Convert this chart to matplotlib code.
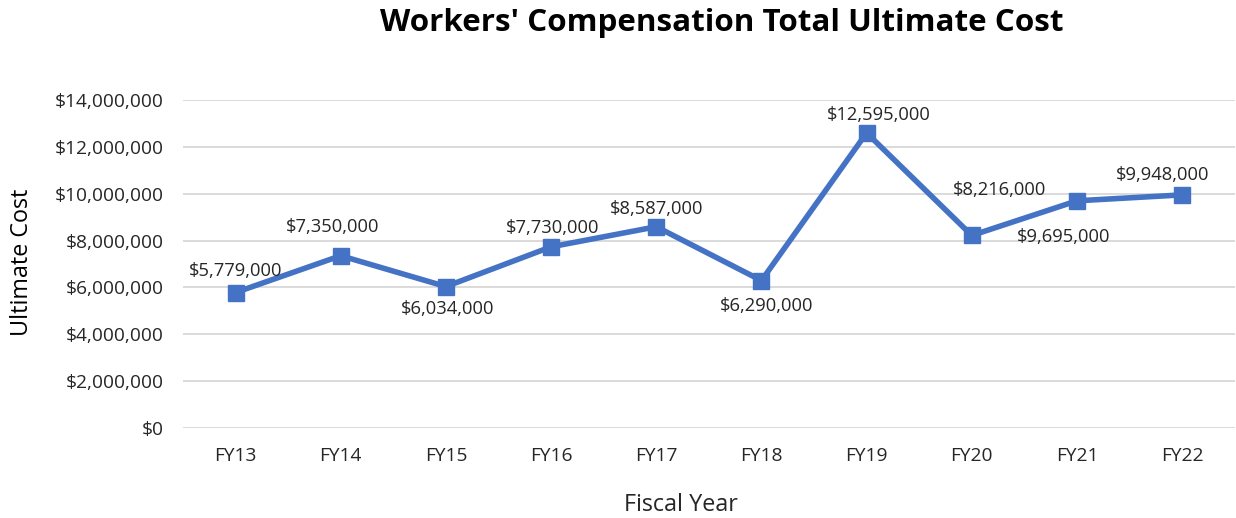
import matplotlib.pyplot as plt
from matplotlib.ticker import FuncFormatter

years = ["FY13", "FY14", "FY15", "FY16", "FY17", "FY18", "FY19", "FY20", "FY21", "FY22"]
cost = [5779000, 7350000, 6034000, 7730000, 8587000, 6290000, 12595000, 8216000, 9695000, 9948000]


def main():
    plt.rcParams['font.family'] = ['Open Sans', 'DejaVu Sans']

    fig = plt.figure(figsize=(12.36, 5.18), dpi=100)
    ax = fig.add_axes([0.148, 0.174, 0.851, 0.633])

    x = list(range(len(years)))
    ax.plot(x, cost, color='#4472C4', lw=4, marker='s', ms=11, zorder=3)

    # label placement (pixels), placed like excel does to avoid the line
    dx = [0, -8, 2, 2, 0, 5, 12, 28, -13, -20]
    dy = [22, 29, -22, 19, 18, -25, 18, 45, -36, 20]
    for i, v in enumerate(cost):
        ax.annotate("${:,.0f}".format(v), (i, v), xytext=(dx[i], dy[i]),
                    textcoords='offset pixels', ha='center', va='center',
                    fontsize=13.2, color='#262626')

    ax.set_xlim(-0.5, len(years) - 0.5)
    ax.set_ylim(0, 14000000)
    ax.set_yticks(range(0, 14000001, 2000000))
    ax.yaxis.set_major_formatter(FuncFormatter(lambda v, p: "${:,.0f}".format(v)))
    ax.set_xticks(x)
    ax.set_xticklabels(years)
    ax.grid(axis='y', color='#d4d4d4', lw=1.2)
    ax.set_axisbelow(True)
    for s in ax.spines.values():
        s.set_visible(False)
    ax.tick_params(length=0, labelsize=13.8, labelcolor='#262626', pad=14)
    ax.tick_params(axis='x', pad=14)

    fig.text(0.018, 0.494, "Ultimate Cost", rotation=90, ha='center', va='center',
             fontsize=16.8, color='#000000')
    fig.text(0.551, 0.025, "Fiscal Year", ha='center', va='center',
             fontsize=16.8, color='#262626')
    fig.text(0.584, 0.955, "Workers' Compensation Total Ultimate Cost",
             ha='center', va='center', fontsize=22.6, fontweight='bold')

    fig.savefig("out.png", dpi=100)


if __name__ == '__main__':
    main()
